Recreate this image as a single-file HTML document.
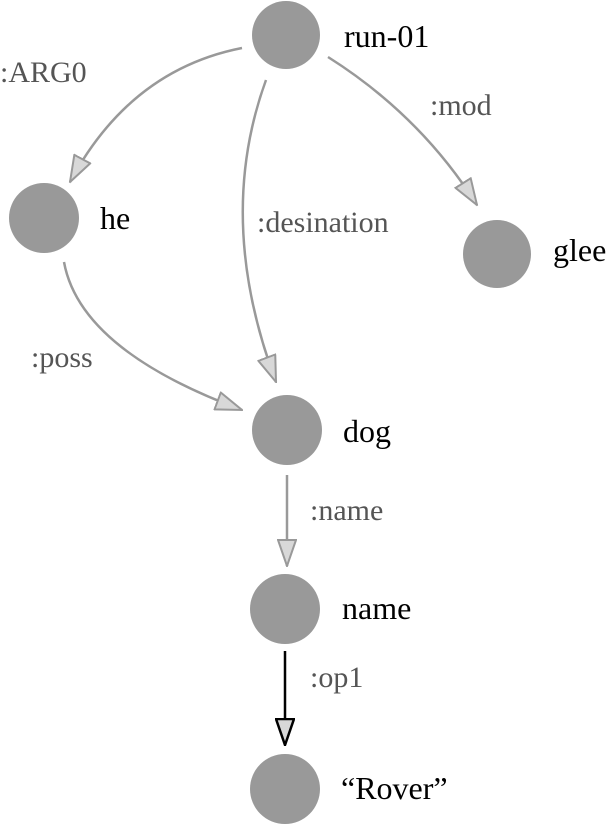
<!DOCTYPE html>
<html><head><meta charset="utf-8"><style>
html,body{margin:0;padding:0;background:#fff;}
body{position:relative;width:615px;height:825px;overflow:hidden;}
svg{display:block;position:absolute;left:0;top:0;}
.t{position:absolute;font-family:"Liberation Serif","Times New Roman",Times,serif;white-space:nowrap;line-height:1;}
.n{font-size:32px;color:#000;}
.e{font-size:30px;color:#555;}
</style></head><body>
<svg width="615" height="825" viewBox="0 0 615 825" xmlns="http://www.w3.org/2000/svg">
<defs>
<marker id="ag" viewBox="0 0 28 20" refX="27" refY="10" markerWidth="28" markerHeight="20" markerUnits="userSpaceOnUse" orient="auto">
<path d="M1,1 L27,10 L1,19 Z" fill="#d8d8d8" stroke="#999" stroke-width="2"/>
</marker>
<marker id="ab" viewBox="0 0 28 20" refX="27" refY="10" markerWidth="28" markerHeight="20" markerUnits="userSpaceOnUse" orient="auto">
<path d="M1,1 L27,10 L1,19 Z" fill="#d8d8d8" stroke="#000" stroke-width="2.5"/>
</marker>
</defs>
<g fill="none" stroke="#999" stroke-width="2.5">
<path d="M242,48 Q130,70 70,182" marker-end="url(#ag)"/>
<path d="M328,57 Q420,115 477,205" marker-end="url(#ag)"/>
<path d="M266,80 Q215,220 276,382" marker-end="url(#ag)"/>
<path d="M64,262 Q80,350 242,410" marker-end="url(#ag)"/>
<path d="M287,475 L287,566" marker-end="url(#ag)"/>
<path d="M285,651 L285,745" stroke="#000" marker-end="url(#ab)"/>
</g>
<g fill="#999">
<circle cx="286" cy="35" r="34"/>
<circle cx="44" cy="218" r="35"/>
<circle cx="497" cy="254" r="34"/>
<circle cx="287" cy="430" r="35"/>
<circle cx="285" cy="609" r="35"/>
<circle cx="285" cy="789" r="35"/>
</g>
</svg>
<div class="t n" style="left:344px;top:20px">run-01</div>
<div class="t n" style="left:100px;top:202px">he</div>
<div class="t n" style="left:553px;top:234px">glee</div>
<div class="t n" style="left:343px;top:415px">dog</div>
<div class="t n" style="left:342px;top:592px">name</div>
<div class="t n" style="left:341px;top:772px">“Rover”</div>
<div class="t e" style="left:0px;top:58px">:ARG0</div>
<div class="t e" style="left:430px;top:91px">:mod</div>
<div class="t e" style="left:257px;top:208px">:desination</div>
<div class="t e" style="left:31px;top:343px">:poss</div>
<div class="t e" style="left:310px;top:496px">:name</div>
<div class="t e" style="left:310px;top:663px">:op1</div>
</body></html>
